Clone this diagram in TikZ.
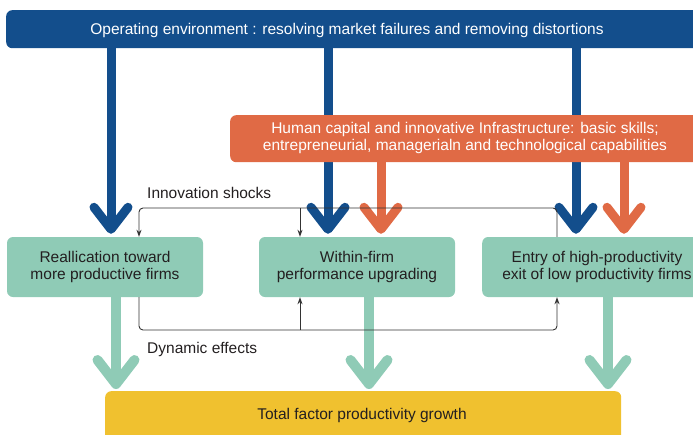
\documentclass[tikz,border=0pt]{standalone}
\usepackage{fontspec}
\setmainfont{Liberation Sans}
\usetikzlibrary{arrows.meta}
\definecolor{envblue}{HTML}{134E8C}
\definecolor{capor}{HTML}{E06A45}
\definecolor{firmgr}{HTML}{8FCBB6}
\definecolor{tfpyel}{HTML}{F0C12F}
\definecolor{ink}{HTML}{231F20}
\definecolor{wire}{HTML}{333333}
\begin{document}
\begin{tikzpicture}[x=1pt,y=-1pt,
  bar/.style={rounded corners=6pt, inner sep=0pt, anchor=north west},
  txt/.style={inner sep=0pt, align=center, font=\fontsize{15.5}{17}\selectfont},
  firm/.style={fill=firmgr, rounded corners=6pt, inner sep=0pt,
    minimum width=196pt, minimum height=60pt, text=ink, align=center,
    font=\fontsize{15.5}{17}\selectfont},
  lbl/.style={txt, text=ink},
  bigarrow/.style={line width=9pt, -{Straight Barb[round,length=22pt,width=34pt]}},
  greenarrow/.style={line width=10pt, draw=firmgr, -{Straight Barb[round,length=24pt,width=37pt]}},
  loop/.style={draw=wire, line width=0.9pt, rounded corners=4pt},
  thin/.style={draw=wire, line width=0.9pt},
  tip/.style={-{Stealth[length=7pt,width=5pt]}}
]
\clip (0,0) rectangle (693,434);

% policy layers
\node[bar, fill=envblue, minimum width=710pt, minimum height=38pt] (env) at (6,10) {};
\node[txt, text=white] (envtext) at (347,30)
  {Operating environment : resolving market failures and removing distortions};

% firm-level channels
\node[firm] (realloc) at (105,267) {Reallication toward\\more productive firms};
\node[firm] (within) at (357,267) {Within-firm\\performance upgrading};
\node[firm, minimum width=230pt, anchor=west] (entry) at (482,267) {};
\node[lbl] (entrytext) at (597,267)
  {Entry of high-productivity\\exit of low productivity firms};

% outcome
\node[bar, fill=tfpyel, minimum width=516pt, minimum height=60pt] (tfp) at (105,391) {};
\node[lbl] (tfptext) at (362,415) {Total factor productivity growth};

% operating environment feeds every channel
\foreach \x/\t in {111/realloc, 328/within, 576/entry}
  \draw[bigarrow, draw=envblue] (env.south -| \x,0) -- ([yshift=3pt]\t.north -| \x,0);

% capabilities layer sits over the blue shafts
\node[bar, fill=capor, minimum width=480pt, minimum height=47pt] (cap) at (230,115) {};
\node[txt, text=white, font=\fontsize{15.5}{16.5}\selectfont] (captext) at (465,138)
  {Human capital and innovative Infrastructure: basic skills;\\entrepreneurial, managerialn and technological capabilities};
\foreach \x/\t in {381/within, 624/entry}
  \draw[bigarrow, draw=capor] (cap.south -| \x,0) -- ([yshift=3pt]\t.north -| \x,0);

% innovation shocks loop
\coordinate (shR) at (557,208);
\coordinate (shL) at (139,208);
\coordinate (shM) at (300,208);
\draw[loop, tip] (entry.north -| shR) -- (shR) -- (shL) -- (realloc.north -| shL);
\draw[thin, tip] (shM) -- (within.north -| shM);
\node[lbl, anchor=west] (shocks) at (147,193) {Innovation shocks};

% contributions to productivity growth
\foreach \x/\t in {116/realloc, 369/within, 608/entry}
  \draw[greenarrow] (\t.south -| \x,0) -- ([yshift=2pt]tfp.north -| \x,0);

% dynamic effects loop
\coordinate (dyL) at (139,330);
\coordinate (dyR) at (557,330);
\coordinate (dyM) at (300,330);
\draw[loop, tip] (realloc.south -| dyL) -- (dyL) -- (dyR) -- (entry.south -| dyR);
\draw[thin, tip] (dyM) -- (within.south -| dyM);
\node[lbl, anchor=west] (dynamic) at (147,349) {Dynamic effects};
\end{tikzpicture}
\end{document}
